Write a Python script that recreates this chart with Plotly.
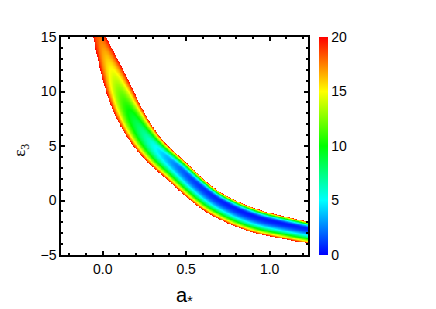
import numpy as np
import plotly.graph_objects as go

# ---- values ----
# ridge (chi-square minimum) of the allowed band, in data coordinates
ridge_a = [-0.032, -0.020, 0.016, 0.062, 0.110, 0.170, 0.250, 0.340, 0.460, 0.560, 0.660,
           0.760, 0.860, 0.960, 1.060, 1.160, 1.228, 1.360]
ridge_e = [15.64, 15.00, 13.44, 11.61, 9.77, 7.94, 6.10, 4.57, 3.00, 1.65, 0.45,
           -0.45, -1.15, -1.65, -2.02, -2.35, -2.57, -3.00]
# minimum chi-square along the ridge
ridge_chi = [19.0, 18.0, 16.5, 14.5, 12.0, 9.5, 7.0, 4.5, 2.2, 1.2, 0.8,
             0.6, 0.5, 0.5, 0.5, 0.6, 0.7, 0.9]
# half-width (px) to the chi2 = 20 contour on the lower-left and upper-right sides
width_lo = [5.0, 6.0, 8.6, 11.5, 13.5, 15.0, 16.0, 16.5, 17.0, 17.3, 17.4,
            16.8, 16.3, 16.0, 15.3, 14.8, 14.4, 14.0]
width_hi = [5.0, 6.0, 8.4, 10.8, 12.5, 12.3, 11.0, 9.6, 8.5, 7.6, 7.0,
            7.3, 7.6, 7.3, 7.3, 7.0, 6.8, 6.7]

chi_max = 20.0
x_range = [-0.25, 1.23]
y_range = [-5, 15]
cbar_ticks = [0, 5, 10, 15, 20]
x_ticks = [0.0, 0.5, 1.0]
x_ticktext = ["0.0", "0.5", "1.0"]
y_ticks = [-5, 0, 5, 10, 15]

# ---- build the chi-square map from the read band ----
SX, SY = 166.7, 10.9  # px per unit (screen scale of the reference)
gx = np.linspace(x_range[0], x_range[1], 320)
gy = np.linspace(y_range[0], y_range[1], 280)
GX, GY = np.meshgrid(gx, gy)
PX = (GX * SX).ravel()
PY = (-GY * SY).ravel()   # screen-down coordinate


def catmull(vals, n=12):
    v = np.asarray(vals, dtype=float)
    e = np.concatenate([[2 * v[0] - v[1]], v, [2 * v[-1] - v[-2]]])
    out = []
    for i in range(len(v) - 1):
        p0, p1, p2, p3 = e[i:i + 4]
        for s in np.linspace(0, 1, n, endpoint=False):
            out.append(0.5 * (2 * p1 + (-p0 + p2) * s + (2 * p0 - 5 * p1 + 4 * p2 - p3) * s * s
                              + (-p0 + 3 * p1 - 3 * p2 + p3) * s ** 3))
    out.append(v[-1])
    return np.array(out)


cx = catmull(np.array(ridge_a) * SX)
cy = catmull(-np.array(ridge_e) * SY)
cm = catmull(ridge_chi)
hl = catmull(width_lo)
hh = catmull(width_hi)

best_d = np.full(PX.shape, np.inf)
best_chi = np.full(PX.shape, np.nan)
for i in range(len(cx) - 1):
    dx, dy = cx[i + 1] - cx[i], cy[i + 1] - cy[i]
    L2 = dx * dx + dy * dy
    t = ((PX - cx[i]) * dx + (PY - cy[i]) * dy) / L2
    t = np.clip(t, 0, 1)
    qx = PX - (cx[i] + t * dx)
    qy = PY - (cy[i] + t * dy)
    d = np.sqrt(qx * qx + qy * qy)
    cross = dx * qy - dy * qx
    cmin = cm[i] + t * (cm[i + 1] - cm[i])
    h_lo = hl[i] + t * (hl[i + 1] - hl[i])
    h_hi = hh[i] + t * (hh[i + 1] - hh[i])
    h = np.where(cross < 0, h_hi, h_lo)   # cross<0 -> upper-right side
    chi = cmin + (chi_max - cmin) * (d / h) ** 2
    upd = d < best_d
    best_d = np.where(upd, d, best_d)
    best_chi = np.where(upd, chi, best_chi)

Z = best_chi.reshape(GX.shape)
Z[Z > chi_max] = np.nan

jet = [[0.0, "rgb(0,0,255)"], [0.25, "rgb(0,255,255)"], [0.5, "rgb(0,255,0)"],
       [0.75, "rgb(255,255,0)"], [1.0, "rgb(255,0,0)"]]

FONT = "Arial, Liberation Sans, sans-serif"

fig = go.Figure(go.Heatmap(
    x=gx, y=gy, z=Z, zmin=0, zmax=chi_max, colorscale=jet, zsmooth=False,
    hoverongaps=False,
    colorbar=dict(thickness=9, len=1, lenmode="fraction", y=0.5, yanchor="middle",
                  x=1.0445, xanchor="left", xpad=0, ypad=0, outlinewidth=0,
                  ticks="", tickvals=cbar_ticks,
                  tickfont=dict(family=FONT, size=14, color="black")),
))

axis_common = dict(showline=True, linecolor="black", linewidth=1.5, mirror="allticks",
                   ticks="inside", ticklen=4, tickwidth=1.5, tickcolor="black",
                   showgrid=False, zeroline=False,
                   tickfont=dict(family=FONT, size=14, color="black"))

# the page body has an 8px default margin, so the figure is offset by 8px
fig.update_layout(
    width=428, height=301,
    margin=dict(l=53, r=128, t=29, b=54),
    paper_bgcolor="white", plot_bgcolor="white",
    xaxis=dict(range=x_range, tickvals=x_ticks, ticktext=x_ticktext,
               minor=dict(dtick=0.1, tick0=0, ticks="inside", ticklen=2.5, tickcolor="black"),
               **axis_common),
    yaxis=dict(range=y_range, tickvals=y_ticks,
               minor=dict(dtick=1, tick0=0, ticks="inside", ticklen=2.5, tickcolor="black"),
               **axis_common),
    annotations=[
        dict(text="a<sub>*</sub>", x=0.5, y=-0.19, xref="paper", yref="paper",
             showarrow=False, xanchor="center", yanchor="middle",
             font=dict(family=FONT, size=20, color="black")),
        dict(text="ε<sub>3</sub>", x=-0.16, y=0.48, xref="paper", yref="paper",
             showarrow=False, xanchor="center", yanchor="middle", textangle=-90,
             font=dict(family="Liberation Serif, Times New Roman, serif", size=17, color="black")),
    ],
)

fig.write_html("out.html")
